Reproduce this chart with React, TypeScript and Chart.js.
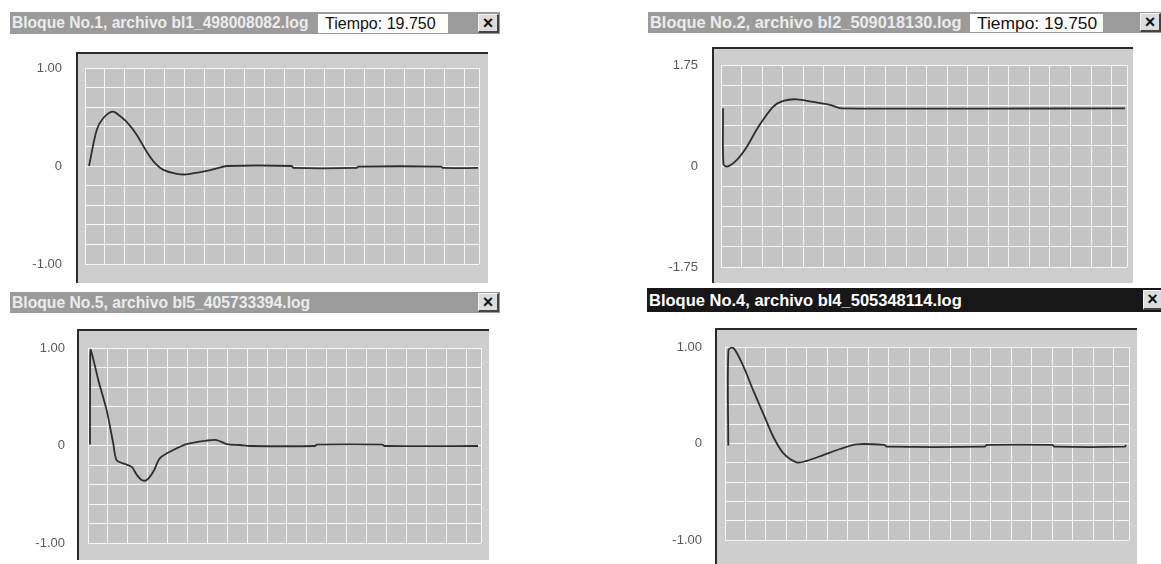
import React, { useEffect, useRef } from "react";
import { Chart, registerables } from "chart.js";

Chart.register(...registerables);

// ---------- data ----------
const gridTimes = [0, 1, 2, 3, 4, 5, 6, 7, 8, 9, 10, 11, 12, 13, 14, 15, 16, 17, 18, 19, 19.75];

const unitYTicks = [-1, -0.8, -0.6, -0.4, -0.2, 0, 0.2, 0.4, 0.6, 0.8, 1];
const unitYLabelValues = [1, 0, -1];
const unitYLabelTexts = ["1.00", "0", "-1.00"];

const wideYTicks = [-1.75, -1.4, -1.05, -0.7, -0.35, 0, 0.35, 0.7, 1.05, 1.4, 1.75];
const wideYLabelValues = [1.75, 0, -1.75];
const wideYLabelTexts = ["1.75", "0", "-1.75"];

// Bloque No.1
const block1Time = [0.2, 0.59, 0.92, 1.39, 1.75, 2.09, 2.59, 3.09, 3.51, 3.93, 4.6, 5.1, 6.1, 6.6, 7.1, 10.35, 10.45, 13.6, 13.7, 17.85, 17.95, 19.7];
const block1Value = [0, 0.37, 0.49, 0.554, 0.51, 0.45, 0.32, 0.146, 0.03, -0.04, -0.08, -0.085, -0.05, -0.024, 0, 0, -0.02, -0.02, -0.006, -0.006, -0.02, -0.02];

// Bloque No.2
const block2Time = [0.1, 0.12, 0.31, 0.76, 1.25, 1.82, 2.54, 3.03, 3.68, 4.49, 5.3, 5.87, 19.65];
const block2Value = [1.0, 0.03, -0.01, 0.1, 0.33, 0.68, 1.03, 1.13, 1.156, 1.11, 1.06, 1.0, 1.0];

// Bloque No.5
const block5Time = [0.1, 0.11, 0.14, 0.52, 0.94, 1.27, 1.44, 1.86, 2.2, 2.45, 2.7, 2.95, 3.28, 3.62, 4.29, 4.96, 5.96, 6.47, 6.97, 7.64, 8.14, 11.4, 11.5, 14.8, 14.9, 19.6];
const block5Value = [0.01, 0.9, 0.98, 0.67, 0.36, 0.02, -0.15, -0.19, -0.22, -0.3, -0.354, -0.354, -0.27, -0.13, -0.046, 0.015, 0.05, 0.056, 0.015, 0.005, -0.005, -0.005, 0.008, 0.008, -0.005, -0.005];

// Bloque No.4
const block4Time = [0.16, 0.17, 0.41, 0.9, 1.38, 1.87, 2.36, 2.85, 3.5, 3.99, 4.8, 5.62, 6.44, 7.8, 7.9, 12.7, 12.8, 16.0, 16.1, 19.55, 19.6];
const block4Value = [-0.02, 0.97, 0.99, 0.8, 0.55, 0.31, 0.07, -0.1, -0.195, -0.18, -0.12, -0.057, -0.008, -0.015, -0.033, -0.033, -0.015, -0.015, -0.033, -0.033, -0.015];

// ---------- layout ----------
const AXW = 60;
const PAD = 34;
const FONT = '"Liberation Sans", Arial, sans-serif';

type Box = { l: number; t: number; r: number; b: number };
type PanelSpec = {
  title: string;
  tiempo?: string;
  active?: boolean;
  bar: Box;
  titleSize: number;
  tiempoBox?: { l: number; r: number; size: number };
  close: Box;
  frame: Box;
  grid: Box;
  times: number[];
  values: number[];
  yTicks: number[];
  yLabelValues: number[];
  yLabelTexts: string[];
};

const panels: PanelSpec[] = [
  {
    title: "Bloque No.1, archivo bl1_498008082.log",
    tiempo: "Tiempo: 19.750",
    bar: { l: 10, t: 12, r: 500, b: 34 },
    titleSize: 15.6,
    tiempoBox: { l: 318, r: 448, size: 16 },
    close: { l: 478, t: 14, r: 499, b: 33 },
    frame: { l: 76, t: 52, r: 488, b: 283 },
    grid: { l: 85, t: 68, r: 479, b: 264 },
    times: block1Time,
    values: block1Value,
    yTicks: unitYTicks,
    yLabelValues: unitYLabelValues,
    yLabelTexts: unitYLabelTexts,
  },
  {
    title: "Bloque No.2, archivo bl2_509018130.log",
    tiempo: "Tiempo: 19.750",
    bar: { l: 648, t: 12, r: 1161, b: 33 },
    titleSize: 16.4,
    tiempoBox: { l: 970, r: 1103, size: 17.4 },
    close: { l: 1140, t: 13, r: 1161, b: 32 },
    frame: { l: 712, t: 47, r: 1133, b: 283 },
    grid: { l: 721, t: 65, r: 1127, b: 267 },
    times: block2Time,
    values: block2Value,
    yTicks: wideYTicks,
    yLabelValues: wideYLabelValues,
    yLabelTexts: wideYLabelTexts,
  },
  {
    title: "Bloque No.5, archivo bl5_405733394.log",
    bar: { l: 10, t: 292, r: 500, b: 313 },
    titleSize: 15.7,
    close: { l: 478, t: 293, r: 499, b: 312 },
    frame: { l: 77, t: 329, r: 489, b: 560 },
    grid: { l: 88, t: 348, r: 481, b: 543 },
    times: block5Time,
    values: block5Value,
    yTicks: unitYTicks,
    yLabelValues: unitYLabelValues,
    yLabelTexts: unitYLabelTexts,
  },
  {
    title: "Bloque No.4, archivo bl4_505348114.log",
    active: true,
    bar: { l: 647, t: 288, r: 1161, b: 312 },
    titleSize: 16.5,
    close: { l: 1143, t: 290, r: 1163, b: 310 },
    frame: { l: 715, t: 328, r: 1137, b: 564 },
    grid: { l: 725, t: 347, r: 1129, b: 540 },
    times: block4Time,
    values: block4Value,
    yTicks: unitYTicks,
    yLabelValues: unitYLabelValues,
    yLabelTexts: unitYLabelTexts,
  },
];

const areaBg = {
  id: "areaBg",
  beforeDraw(chart: any) {
    const a = chart.chartArea;
    if (!a) return;
    const ctx = chart.ctx;
    ctx.save();
    ctx.fillStyle = "#c4c4c4";
    ctx.fillRect(a.left, a.top, a.right - a.left, a.bottom - a.top);
    ctx.restore();
  },
};

function PanelChart({ p }: { p: PanelSpec }) {
  const ref = useRef<HTMLCanvasElement>(null);
  const w = p.grid.r - p.grid.l + AXW + 12;
  const h = p.grid.b - p.grid.t + 2 * PAD;
  const yMax = p.yTicks[p.yTicks.length - 1];
  const yMin = p.yTicks[0];

  useEffect(() => {
    if (!ref.current) return;
    const chart = new Chart(ref.current, {
      type: "line",
      data: {
        datasets: [
          {
            data: p.times.map((t, i) => ({ x: t, y: p.values[i] })),
            borderColor: "#2e2e2e",
            borderWidth: 1.8,
            pointRadius: 0,
            tension: 0.3,
            fill: false,
          },
        ],
      },
      options: {
        animation: false,
        responsive: false,
        maintainAspectRatio: false,
        layout: { padding: { left: 0, right: 12, top: PAD, bottom: PAD } },
        plugins: { legend: { display: false }, tooltip: { enabled: false }, title: { display: false } },
        scales: {
          x: {
            type: "linear",
            min: 0,
            max: gridTimes[gridTimes.length - 1],
            afterBuildTicks: (s: any) => {
              s.ticks = gridTimes.map((v) => ({ value: v }));
            },
            afterFit: (s: any) => {
              s.height = 0;
            },
            ticks: { display: false },
            grid: { color: "#f6f6f6", lineWidth: 1, drawTicks: false },
            border: { display: false },
          },
          y: {
            type: "linear",
            min: yMin,
            max: yMax,
            afterBuildTicks: (s: any) => {
              s.ticks = p.yTicks.map((v) => ({ value: v }));
            },
            afterFit: (s: any) => {
              s.width = AXW;
            },
            ticks: {
              padding: 23,
              color: "#5a5a5a",
              font: { family: FONT, size: 13 },
              callback: (v: any) => {
                const idx = p.yLabelValues.findIndex((lv) => Math.abs(lv - Number(v)) < 1e-6);
                return idx >= 0 ? p.yLabelTexts[idx] : "";
              },
            },
            grid: { color: "#f6f6f6", lineWidth: 1, drawTicks: false },
            border: { display: false },
          },
        },
      },
      plugins: [areaBg],
    } as any);
    return () => chart.destroy();
  }, []);

  return (
    <canvas
      ref={ref}
      width={w}
      height={h}
      style={{
        position: "absolute",
        left: p.grid.l - AXW,
        top: p.grid.t - PAD,
        width: w,
        height: h,
        zIndex: 2,
        pointerEvents: "none",
      }}
    />
  );
}

function Panel({ p }: { p: PanelSpec }) {
  const barH = p.bar.b - p.bar.t;
  return (
    <>
      <div
        style={{
          position: "absolute",
          left: p.bar.l,
          top: p.bar.t,
          width: p.bar.r - p.bar.l,
          height: barH,
          background: p.active ? "#171717" : "#9b9b9b",
          overflow: "hidden",
        }}
      >
        <span
          style={{
            position: "absolute",
            left: 2,
            top: 0,
            lineHeight: barH + "px",
            fontFamily: FONT,
            fontWeight: "bold",
            fontSize: p.titleSize,
            color: p.active ? "#ffffff" : "#ececec",
            whiteSpace: "nowrap",
          }}
        >
          {p.title}
        </span>
      </div>
      {p.tiempoBox && p.tiempo && (
        <div
          style={{
            position: "absolute",
            left: p.tiempoBox.l,
            top: p.bar.t + 2,
            width: p.tiempoBox.r - p.tiempoBox.l,
            height: barH - 3,
            background: "#ffffff",
            fontFamily: FONT,
            fontSize: p.tiempoBox.size,
            lineHeight: barH - 3 + "px",
            color: "#111",
            paddingLeft: 7,
            boxSizing: "border-box",
            whiteSpace: "nowrap",
          }}
        >
          {p.tiempo}
        </div>
      )}
      <div
        style={{
          position: "absolute",
          left: p.close.l,
          top: p.close.t,
          width: p.close.r - p.close.l,
          height: p.close.b - p.close.t,
          background: "#dcdcdc",
          borderTop: "1px solid #f4f4f4",
          borderLeft: "1px solid #f4f4f4",
          borderRight: "2px solid #444",
          borderBottom: "2px solid #444",
          boxSizing: "border-box",
          fontFamily: FONT,
          fontWeight: "bold",
          fontSize: 18,
          lineHeight: p.close.b - p.close.t - 3 + "px",
          textAlign: "center",
          color: "#111",
        }}
      >
        ×
      </div>
      <div
        style={{
          position: "absolute",
          left: p.frame.l,
          top: p.frame.t,
          width: p.frame.r - p.frame.l,
          height: p.frame.b - p.frame.t,
          background: "#cecece",
          borderTop: "2px solid #2a2a2a",
          borderLeft: "2px solid #2a2a2a",
          boxSizing: "border-box",
          zIndex: 1,
        }}
      />
      <PanelChart p={p} />
    </>
  );
}

export default function App() {
  return (
    <div
      style={{
        position: "absolute",
        left: 0,
        top: 0,
        width: 1161,
        height: 564,
        background: "#ffffff",
        overflow: "hidden",
      }}
    >
      {panels.map((p, i) => (
        <Panel key={i} p={p} />
      ))}
    </div>
  );
}
